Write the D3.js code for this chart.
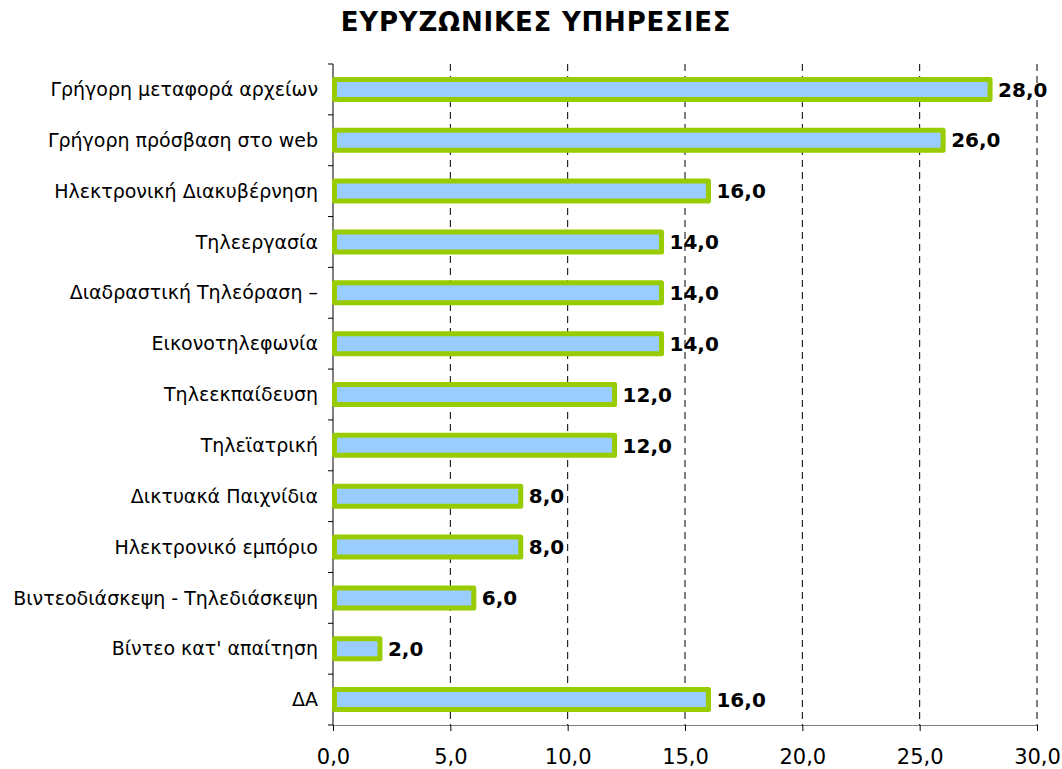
<!DOCTYPE html>
<html>
<head>
<meta charset="utf-8">
<script src="https://cdn.jsdelivr.net/npm/d3@7"></script>
<style>
  body { margin: 0; background: #fff; }
  svg text { font-family: "DejaVu Sans", Verdana, sans-serif; }
</style>
</head>
<body>
<svg id="chart"></svg>
<script>
const width = 1062;
const height = 769;

// data
const categories = [
  "Γρήγορη μεταφορά αρχείων",
  "Γρήγορη πρόσβαση στο web",
  "Ηλεκτρονική Διακυβέρνηση",
  "Τηλεεργασία",
  "Διαδραστική Τηλεόραση –",
  "Εικονοτηλεφωνία",
  "Τηλεεκπαίδευση",
  "Τηλεϊατρική",
  "Δικτυακά Παιχνίδια",
  "Ηλεκτρονικό εμπόριο",
  "Βιντεοδιάσκεψη - Τηλεδιάσκεψη",
  "Βίντεο κατ' απαίτηση",
  "ΔΑ"
];
const values = [28, 26, 16, 14, 14, 14, 12, 12, 8, 8, 6, 2, 16];
const xTicks = [0, 5, 10, 15, 20, 25, 30];
const title = "ΕΥΡΥΖΩΝΙΚΕΣ ΥΠΗΡΕΣΙΕΣ";

const fmt = v => v.toFixed(1).replace(".", ",");

const svg = d3.select("#chart")
  .attr("width", width)
  .attr("height", height);

const x = d3.scaleLinear().domain([0, 30]).range([333, 1037]);
const y = d3.scaleBand().domain(categories).range([64, 725]).padding(0);

// title
svg.append("text")
  .attr("x", 536)
  .attr("y", 31)
  .attr("text-anchor", "middle")
  .attr("font-size", 26)
  .attr("font-weight", "bold")
  .attr("letter-spacing", 0.8)
  .text(title);

// dashed grid lines
svg.append("g")
  .selectAll("line")
  .data(xTicks.filter(d => d > 0))
  .enter()
  .append("line")
  .attr("x1", d => x(d)).attr("x2", d => x(d))
  .attr("y1", 64).attr("y2", 725)
  .attr("stroke", "#000")
  .attr("stroke-width", 1)
  .attr("stroke-dasharray", "7,5");

// bottom axis
const xAxis = svg.append("g")
  .attr("transform", "translate(0,725)")
  .call(d3.axisBottom(x).tickValues(xTicks).tickFormat(fmt).tickSize(6).tickSizeOuter(0).tickPadding(18));
xAxis.select(".domain").attr("stroke", "#808080");
xAxis.selectAll(".tick line").attr("stroke", "#000");
xAxis.selectAll("text")
  .attr("font-size", 21)
  .attr("fill", "#000")
  .style("font-family", "DejaVu Sans, sans-serif");

// left axis: ticks at band boundaries
const bounds = categories.map(c => y(c)).concat([y.range()[1]]);
svg.append("g")
  .selectAll("line")
  .data(bounds)
  .enter()
  .append("line")
  .attr("x1", 328).attr("x2", 333)
  .attr("y1", d => d).attr("y2", d => d)
  .attr("stroke", "#000");
svg.append("line")
  .attr("x1", 333).attr("x2", 333)
  .attr("y1", 64).attr("y2", 725)
  .attr("stroke", "#000");

// category labels
svg.append("g")
  .selectAll("text")
  .data(categories)
  .enter()
  .append("text")
  .attr("x", 318)
  .attr("y", d => y(d) + y.bandwidth() / 2)
  .attr("dy", "0.35em")
  .attr("text-anchor", "end")
  .attr("font-size", 19)
  .attr("fill", "#000")
  .text(d => d);

// bars
const barH = 20;
svg.append("g")
  .selectAll("rect")
  .data(values)
  .enter()
  .append("rect")
  .attr("x", x(0) + 1.5)
  .attr("y", (d, i) => y(categories[i]) + y.bandwidth() / 2 - barH / 2)
  .attr("width", d => x(d) - x(0) - 1.5)
  .attr("height", barH)
  .attr("fill", "#99CCFF")
  .attr("stroke", "#99CC00")
  .attr("stroke-width", 5)
  .attr("stroke-linejoin", "round");

// value labels
svg.append("g")
  .selectAll("text")
  .data(values)
  .enter()
  .append("text")
  .attr("x", d => x(d) + 8)
  .attr("y", (d, i) => y(categories[i]) + y.bandwidth() / 2)
  .attr("dy", "0.36em")
  .attr("font-size", 20)
  .attr("font-weight", "bold")
  .attr("fill", "#000")
  .text(d => fmt(d));
</script>
</body>
</html>
